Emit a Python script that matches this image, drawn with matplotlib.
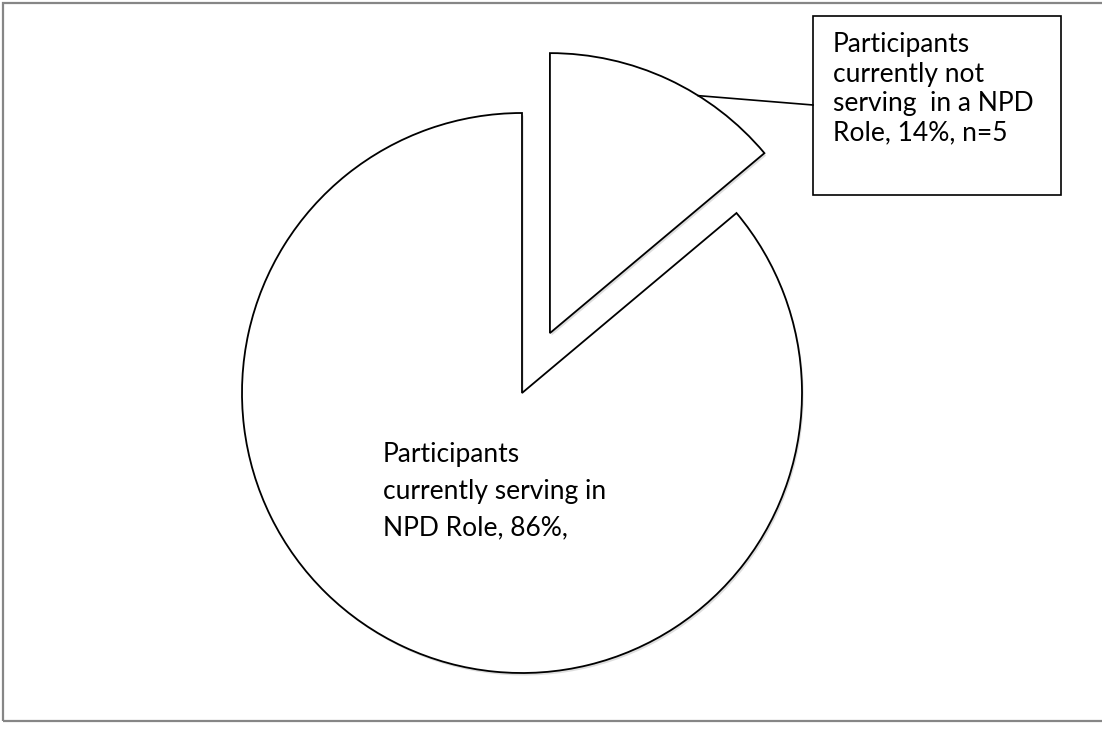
import matplotlib
matplotlib.use("Agg")

import matplotlib.pyplot as plt
import matplotlib.patheffects as pe
from matplotlib.patches import Rectangle
import numpy as np

# participants: not serving first (small exploded slice), then serving
slice_names = ["not serving", "serving"]
slice_counts = [5, 31]
slice_explode_frac = [0.236, 0.0]   # fraction of the radius

label_serving = "Participants\ncurrently serving in\nNPD Role, 86%,"
label_not_serving = "Participants\ncurrently not\nserving  in a NPD\nRole, 14%, n=5"

W, H = 1102, 729
RADIUS = 280
plt.rcParams["font.family"] = ["Lato", "DejaVu Sans"]

fig = plt.figure(figsize=(W / 100, H / 100), dpi=100)
ax = fig.add_axes([0, 0, 1, 1])

shadow = [pe.SimplePatchShadow(offset=(1.2, -1.8), shadow_rgbFace="#c8c8c8", alpha=0.6),
          pe.Normal()]

wedges, _ = ax.pie(
    slice_counts,
    explode=[f * RADIUS for f in slice_explode_frac],
    startangle=90,
    counterclock=False,
    center=(522, H - 393),
    radius=RADIUS,
    wedgeprops=dict(facecolor="white", edgecolor="black", linewidth=1.3),
)
for w in wedges:
    w.set_path_effects(shadow)

ax.set_xlim(0, W)
ax.set_ylim(0, H)
ax.set_aspect("equal", adjustable="box")
ax.axis("off")

# outer chart border (right edge falls outside the picture)
ax.add_patch(Rectangle((3, 8), W + 20, H - 10.5, fill=False, edgecolor="#868686",
                       linewidth=1.6, clip_on=False))

# label inside the big slice
ax.text(383, H - 442, label_serving, fontsize=19, va="top", ha="left",
        linespacing=1.58, color="black")

# callout box for the small slice
box_l, box_t, box_r, box_b = 813, 16, 1061, 195
ax.add_patch(Rectangle((box_l, H - box_b), box_r - box_l, box_b - box_t,
                       facecolor="white", edgecolor="black", linewidth=1.2))
ax.text(box_l + 20, H - 32, label_not_serving, fontsize=19, va="top",
        ha="left", linespacing=1.23, color="black")

# leader line from the small slice's arc to the box
small = wedges[0]
ang = np.deg2rad(58)
cx, cy = small.center
ax.plot([cx + small.r * np.cos(ang), box_l], [cy + small.r * np.sin(ang), H - 105],
        color="black", linewidth=1.2)

fig.savefig("out.png", dpi=100)
